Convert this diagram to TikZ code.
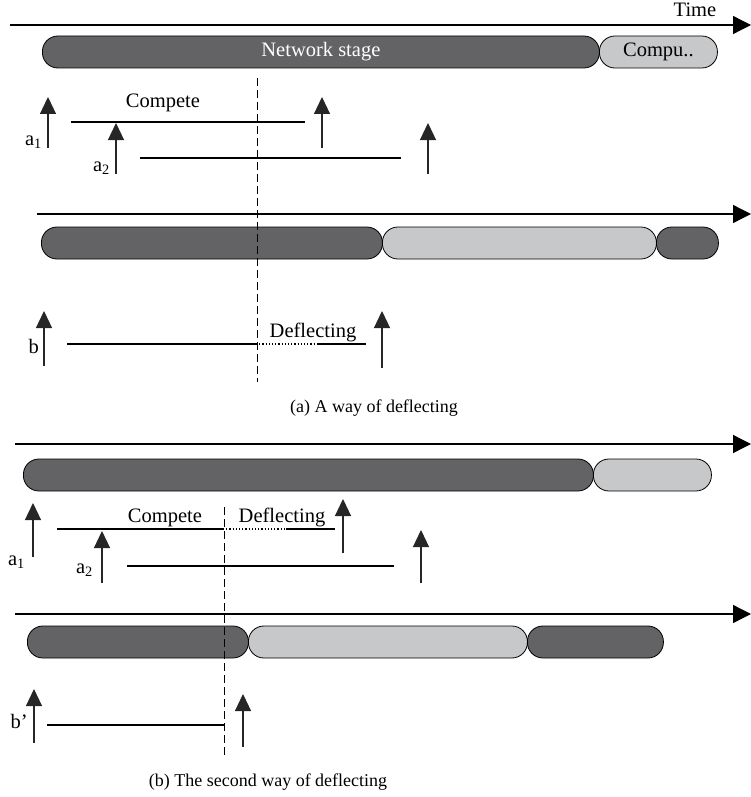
\documentclass[tikz,border=0pt]{standalone}
\usepackage{fontspec}
\setmainfont{Liberation Serif}
\usetikzlibrary{arrows.meta}

\definecolor{stagedark}{HTML}{636365}
\definecolor{stagelight}{HTML}{C7C8CA}

\begin{document}
\begin{tikzpicture}[x=1pt, y=-1pt,
		dark_style/.style={draw=black, fill=stagedark, line width=0.8pt, rounded corners=15.5pt,
			minimum height=32pt, inner sep=0pt, anchor=west, text=white, font=\fontsize{20.5}{24}\selectfont},
		light_style/.style={dark_style, fill=stagelight, text=black},
		axis_style/.style={draw=black, line width=1.3pt, -{Triangle[width=18pt,length=18pt]}},
		mark_style/.style={draw=black!85, line width=1.2pt, -{Triangle[width=16pt,length=17pt]}},
		span_style/.style={draw=black, line width=1.2pt},
		dot_style/.style={draw=black, line width=1.2pt, dotted},
		cut_style/.style={draw=black, line width=1pt, dash pattern=on 8pt off 4pt},
		text_style/.style={inner sep=0pt, anchor=base, font=\fontsize{20.5}{24}\selectfont},
		name_style/.style={inner sep=0pt, anchor=base east, font=\fontsize{20.5}{24}\selectfont},
		caption_style/.style={inner sep=0pt, anchor=base, font=\fontsize{18}{22}\selectfont}]
		
		\useasboundingbox (0,0) rectangle (751,797);
		
		% (a) A way of deflecting
		\coordinate (t0) at (10,25);
		\coordinate (t1) at (751,25);
		\node[text_style] (time) at (695,17) {Time};
		\node[dark_style, minimum width=557pt] (net1) at (42,52) {Network stage};
		\node[light_style, minimum width=118pt] (comp1) at (599,52) {Compu..};
		
		\coordinate (cutA0) at (257,78);
		\coordinate (cutA1) at (257,382);
		
		\coordinate (a1s) at (48,148);
		\coordinate (a1t) at (48,97);
		\node[name_style] (a1) at (42,145) {a\textsubscript{1}};
		\node[text_style] (compA) at (163,108) {Compete};
		\coordinate (a1l0) at (71,122);
		\coordinate (a1l1) at (305,122);
		\coordinate (a1es) at (322,148);
		\coordinate (a1et) at (322,97);
		
		\coordinate (a2s) at (116,174);
		\coordinate (a2t) at (116,123);
		\node[name_style] (a2) at (110,171) {a\textsubscript{2}};
		\coordinate (a2l0) at (140,158);
		\coordinate (a2l1) at (401,158);
		\coordinate (a2es) at (428,174);
		\coordinate (a2et) at (428,123);
		
		\coordinate (u0) at (37,214);
		\coordinate (u1) at (751,214);
		\node[dark_style, minimum width=341pt] (net2) at (41,243) {};
		\node[light_style, minimum width=274pt] (comp2) at (382,243) {};
		\node[dark_style, minimum width=62pt] (net3) at (656,243) {};
		
		\coordinate (bs) at (44,366);
		\coordinate (bt) at (44,311);
		\node[name_style] (b) at (39,353) {b};
		\coordinate (bl0) at (67,344);
		\coordinate (bl1) at (256,344);
		\coordinate (bl2) at (318,344);
		\coordinate (bl3) at (366,344);
		\node[text_style] (defA) at (313,337) {Deflecting};
		\coordinate (bes) at (382,368);
		\coordinate (bet) at (382,311);
		
		\node[caption_style] (capA) at (374,412) {(a) A way of deflecting};
		
		% (b) The second way of deflecting
		\coordinate (v0) at (15,444);
		\coordinate (v1) at (751,444);
		\node[dark_style, minimum width=570pt] (net4) at (23,475) {};
		\node[light_style, minimum width=118pt] (comp4) at (593,475) {};
		
		\coordinate (cutB0) at (224,507);
		\coordinate (cutB1) at (224,755);
		
		\coordinate (c1s) at (33,557);
		\coordinate (c1t) at (33,503);
		\node[name_style] (c1) at (25,565) {a\textsubscript{1}};
		\coordinate (c1l0) at (57,529);
		\coordinate (c1l1) at (223,529);
		\coordinate (c1l2) at (286,529);
		\coordinate (c1l3) at (335,529);
		\node[text_style] (compB) at (165,522) {Compete};
		\node[text_style] (defB) at (282,522) {Deflecting};
		\coordinate (c1es) at (343,553);
		\coordinate (c1et) at (343,499);
		
		\coordinate (c2s) at (102,583);
		\coordinate (c2t) at (102,531);
		\node[name_style] (c2) at (93,573) {a\textsubscript{2}};
		\coordinate (c2l0) at (127,566);
		\coordinate (c2l1) at (394,566);
		\coordinate (c2es) at (421,583);
		\coordinate (c2et) at (421,530);
		
		\coordinate (w0) at (15,614);
		\coordinate (w1) at (751,614);
		\node[dark_style, minimum width=221pt] (net5) at (27,642) {};
		\node[light_style, minimum width=279pt] (comp5) at (248,642) {};
		\node[dark_style, minimum width=136pt] (net6) at (527,642) {};
		
		\coordinate (ds) at (34,743);
		\coordinate (dt) at (34,689);
		\node[name_style] (d) at (28,728) {b'};
		\coordinate (dl0) at (47,725);
		\coordinate (dl1) at (224,725);
		\coordinate (des) at (243,747);
		\coordinate (det) at (243,694);
		
		\node[caption_style] (capB) at (268,786) {(b) The second way of deflecting};
		
		% connectors
		\draw[axis_style] (t0) -- (t1);
		\draw[axis_style] (u0) -- (u1);
		\draw[axis_style] (v0) -- (v1);
		\draw[axis_style] (w0) -- (w1);
		
		\draw[cut_style] (cutA0) -- (cutA1);
		\draw[cut_style] (cutB0) -- (cutB1);
		
		\draw[mark_style] (a1s) -- (a1t);
		\draw[mark_style] (a1es) -- (a1et);
		\draw[mark_style] (a2s) -- (a2t);
		\draw[mark_style] (a2es) -- (a2et);
		\draw[mark_style] (bs) -- (bt);
		\draw[mark_style] (bes) -- (bet);
		\draw[mark_style] (c1s) -- (c1t);
		\draw[mark_style] (c1es) -- (c1et);
		\draw[mark_style] (c2s) -- (c2t);
		\draw[mark_style] (c2es) -- (c2et);
		\draw[mark_style] (ds) -- (dt);
		\draw[mark_style] (des) -- (det);
		
		\draw[span_style] (a1l0) -- (a1l1);
		\draw[span_style] (a2l0) -- (a2l1);
		\draw[span_style] (bl0) -- (bl1);
		\draw[dot_style] (bl1) -- (bl2);
		\draw[span_style] (bl2) -- (bl3);
		\draw[span_style] (c1l0) -- (c1l1);
		\draw[dot_style] (c1l1) -- (c1l2);
		\draw[span_style] (c1l2) -- (c1l3);
		\draw[span_style] (c2l0) -- (c2l1);
		\draw[span_style] (dl0) -- (dl1);
		
\end{tikzpicture}
\end{document}
